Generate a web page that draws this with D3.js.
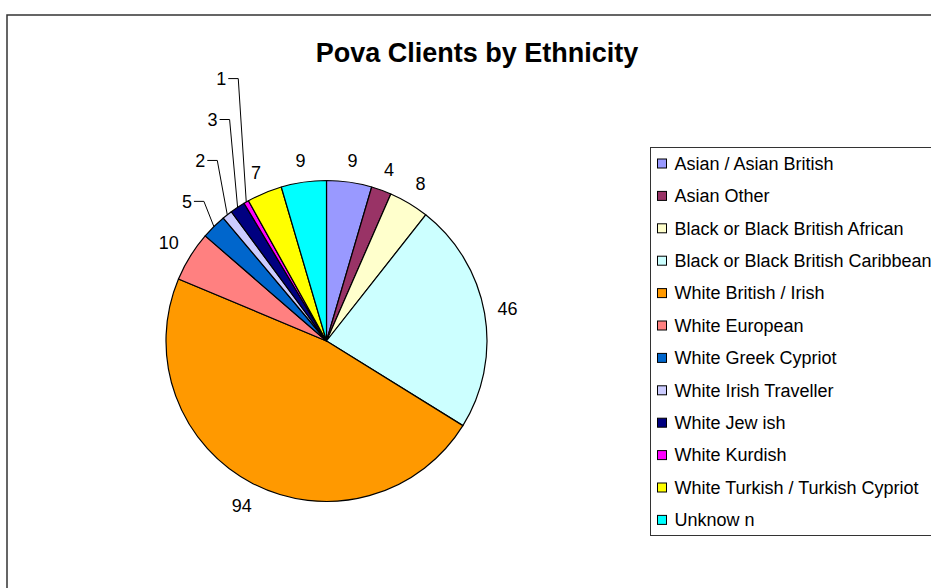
<!DOCTYPE html>
<html>
<head>
<meta charset="utf-8">
<script src="https://cdn.jsdelivr.net/npm/d3@7"></script>
<style>
  body { margin: 0; background: #fff; }
  text { font-family: "Liberation Sans", Arial, sans-serif; }
</style>
</head>
<body>
<div id="chart"></div>
<script>
// data
var categories = ["Asian / Asian British", "Asian Other", "Black or Black British African",
  "Black or Black British Caribbean", "White British / Irish", "White European",
  "White Greek Cypriot", "White Irish Traveller", "White Jew ish", "White Kurdish",
  "White Turkish / Turkish Cypriot", "Unknow n"];
var clients = [9, 4, 8, 46, 94, 10, 5, 2, 3, 1, 7, 9];
var colours = ["#9999FF", "#993366", "#FFFFCC", "#CCFFFF", "#FF9900", "#FF8080",
  "#0066CC", "#CCCCFF", "#000080", "#FF00FF", "#FFFF00", "#00FFFF"];
// slices whose labels sit on leader lines
var leaderSlices = ["White Greek Cypriot", "White Irish Traveller", "White Jew ish", "White Kurdish"];

var width = 931, height = 588;
var cx = 326.5, cy = 341, r = 160.5;

var svg = d3.select("#chart").append("svg")
  .attr("width", width)
  .attr("height", height);

// chart frame
svg.append("rect")
  .attr("x", 7).attr("y", 15)
  .attr("width", width).attr("height", height)
  .attr("fill", "#fff")
  .attr("stroke", "#333")
  .attr("stroke-width", 1.5);

svg.append("text")
  .attr("x", 477).attr("y", 62)
  .attr("text-anchor", "middle")
  .style("font-size", "27px")
  .style("font-weight", "bold")
  .text("Pova Clients by Ethnicity");

var rows = categories.map(function(c, i) { return {name: c, value: clients[i], colour: colours[i]}; });

var pie = d3.pie().sort(null).value(function(d) { return d.value; });
var arc = d3.arc().innerRadius(0).outerRadius(r);
var arcs = pie(rows);

var g = svg.append("g").attr("transform", "translate(" + cx + "," + cy + ")");

g.selectAll("path.slice")
  .data(arcs)
  .enter().append("path")
  .attr("class", "slice")
  .attr("d", arc)
  .attr("fill", function(d) { return d.data.colour; })
  .attr("stroke", "#000")
  .attr("stroke-width", 1.2)
  .attr("stroke-linejoin", "round");

// labels
function mid(d) { return (d.startAngle + d.endAngle) / 2; }

var plain = arcs.filter(function(d) { return leaderSlices.indexOf(d.data.name) < 0; });
var leader = arcs.filter(function(d) { return leaderSlices.indexOf(d.data.name) >= 0; });

g.selectAll("text.lbl")
  .data(plain)
  .enter().append("text")
  .attr("class", "lbl")
  .style("font-size", "18px")
  .attr("text-anchor", "middle")
  .attr("dy", "0.35em")
  .text(function(d) { return d.value; })
  .each(function(d) {
    var a = mid(d);
    var w = this.getComputedTextLength();
    var rr = r + 12 + (w / 2) * Math.abs(Math.sin(a)) + 9 * Math.abs(Math.cos(a));
    d3.select(this).attr("x", rr * Math.sin(a)).attr("y", -rr * Math.cos(a));
  });

leader.forEach(function(d, k) {
  var a = mid(d);
  var ax = r * Math.sin(a), ay = -r * Math.cos(a);
  var ly = -0.87 * r - k * 0.255 * r;
  var ex = ax - 10 + (k > 1 ? 2 : 0);
  g.append("polyline")
    .attr("points", [[ex - 10, ly], [ex, ly], [ax, ay]].map(function(p) { return p.join(","); }).join(" "))
    .attr("fill", "none")
    .attr("stroke", "#000")
    .attr("stroke-width", 1);
  g.append("text")
    .style("font-size", "18px")
    .attr("text-anchor", "end")
    .attr("dy", "0.35em")
    .attr("x", ex - 12)
    .attr("y", ly)
    .text(d.value);
});

// legend
var lx = 650.5, ly0 = 147.5, step = 32.4;
svg.append("rect")
  .attr("x", lx).attr("y", ly0)
  .attr("width", 320).attr("height", 388)
  .attr("fill", "#fff")
  .attr("stroke", "#333");

var item = svg.selectAll("g.legend")
  .data(rows)
  .enter().append("g")
  .attr("class", "legend")
  .attr("transform", function(d, i) { return "translate(" + (lx + 7) + "," + (ly0 + 16 + i * step) + ")"; });

item.append("rect")
  .attr("x", 0).attr("y", -4.5)
  .attr("width", 9).attr("height", 9)
  .attr("fill", function(d) { return d.colour; })
  .attr("stroke", "#000");

item.append("text")
  .attr("x", 17)
  .attr("dy", "0.35em")
  .style("font-size", "18px")
  .text(function(d) { return d.name; });
</script>
</body>
</html>
